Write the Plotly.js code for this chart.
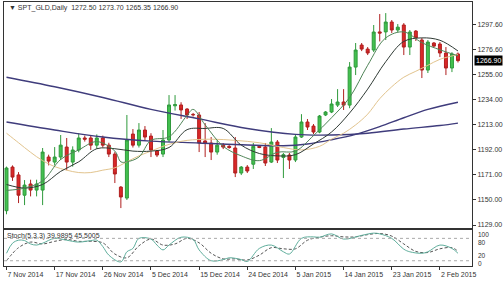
<!DOCTYPE html>
<html><head><meta charset="utf-8">
<script src="https://cdn.plot.ly/plotly-3.0.1.min.js"></script>
<style>html,body{margin:0;padding:0;background:#fff}#c{width:503px;height:283px}</style>
</head><body><div id="c"></div><script>
// ---- data ----
const opens  = [1141,1177.6,1171,1154,1163.4,1158.3,1158.3,1186,1181.8,1186,1194.4,1181.8,1191.9,1202,1202,1196,1202,1196,1188.5,1160.8,1151.6,1205.3,1196,1208.7,1203.6,1191.1,1188.5,1200.3,1229,1229.7,1226.3,1221.8,1221.3,1199.5,1197.8,1190.2,1196,1195,1193.6,1172.6,1177.6,1180,1195,1194.4,1181.8,1198.6,1185.7,1187.7,1183.5,1202.8,1215.4,1212,1207,1221.3,1223.8,1229.6,1232.2,1229.6,1261.5,1280,1276.6,1275.8,1291,1291,1299.3,1292.6,1296.8,1278.3,1291.7,1284.2,1259,1281.7,1280.8,1273.3,1260.7,1272.5];
const highs  = [1178,1179,1173.4,1166.7,1167,1167,1193.6,1188,1194.4,1204.5,1202,1195,1206.1,1204,1204,1205,1204,1198,1190.2,1161.7,1221.3,1209.5,1214.5,1212,1206,1192,1208.7,1238,1238,1232,1227,1223,1223.8,1214.5,1202.8,1200,1197.8,1196,1202.8,1178.5,1179.3,1197.8,1196,1197.8,1210.3,1200.3,1189.4,1189.4,1204.5,1222,1217.9,1213.7,1221.3,1224.6,1234.7,1243,1243,1265.7,1281.7,1281.7,1278.3,1296.8,1306,1306.8,1301,1297.6,1298.4,1292.6,1292.6,1285.9,1284.2,1282.5,1282.5,1278.3,1274,1273.7];
const lows   = [1138,1166,1147.4,1145.7,1153,1153,1145.7,1179,1179,1183.5,1175,1178,1190,1199,1192,1193,1194,1186,1164.2,1143.2,1150,1194,1194,1200,1186,1186,1186,1198.6,1225,1218,1218,1220,1190.2,1186,1183.5,1188,1192.7,1193,1169.2,1170.9,1172.6,1176,1193.5,1178.5,1181,1181,1168.4,1176,1181.8,1202,1208.7,1205.3,1206,1220.4,1222.9,1228,1225.5,1227,1254.8,1274.9,1271.6,1274.1,1283,1284.2,1290.1,1290.9,1271.6,1271.6,1283.4,1252.3,1256.5,1278.3,1269.9,1254.8,1257.3,1265.35];
const closes = [1176.8,1169.2,1154,1162.5,1158.3,1163.4,1190.2,1182.6,1186,1196,1181.8,1191.9,1202,1201,1196,1202,1196,1188.5,1171.8,1152.5,1200.3,1196,1208.7,1202.8,1191.9,1187.7,1200.3,1229.7,1230,1225.5,1221.3,1221.5,1197.8,1197.8,1190.2,1196,1194.4,1194,1172.6,1177.6,1174.3,1195,1194,1181,1198.6,1183.5,1188,1183.5,1202.8,1215.4,1211.2,1207,1220.4,1223.8,1230.5,1232.2,1229.6,1261.5,1275.8,1276.6,1273.3,1290.9,1290,1299.3,1292.6,1295,1278.3,1290.9,1285.9,1259,1282.5,1279.1,1273.3,1260.7,1272.5,1266.9];

const ma5Idx = [0,3,6,9,12,15,18,19,20,22,24,27,30,31,33,36,39,42,45,48,51,54,57,60,63,66,69,72,75];
const ma5    = [1158,1160,1166,1184,1192,1199,1191,1182,1182,1186,1200,1203,1221,1226,1213,1195,1187,1183,1190,1191,1204,1219,1236,1263,1286,1291,1282,1276,1271];
const ma10Idx = [0,3,6,9,12,15,18,21,24,27,30,33,36,39,42,45,48,51,54,57,60,63,66,69,72,75];
const ma10    = [1163,1160,1163,1174,1182,1193,1193,1191,1191,1194,1209,1210,1210,1196,1189,1187,1188,1197,1207,1223,1243,1266,1283,1286,1284,1275];
const ma21Idx = [0,2,4,6,8,10,12,14,16,18,20,22,24,26,28,30,34,38,42,46,49,52,54,56,58,60,62,64,66,68,70,72,75];
const ma21    = [1206,1198,1190,1183,1178,1175,1173,1173,1175,1177,1182,1187,1191,1195,1198,1200,1201,1200,1198,1194,1192,1195,1201,1206,1213,1222,1235,1245,1253,1258,1263,1268,1272];
const ma55Idx = [0,8,16,24,32,40,46,50,54,58,62,66,70,75];
const ma55    = [1215.4,1208.7,1202.8,1199.4,1197.8,1196.1,1195.5,1197,1200.5,1205,1211.5,1219,1226,1232];
const ma100Idx = [0,8,16,24,32,40,48,54,60,66,72,75];
const ma100    = [1253,1245,1236,1226,1218,1210,1205,1204.5,1206,1209.5,1212.5,1214.5];

const stochKIdx = [0,1,2,3,4,5,6,8,10,12,14,15,16,17,19,20,21,22,24,25,26,27,29,31,32,34,36,37,39,40,42,44,46,47,49,51,52,54,56,59,61,62,64,66,67,69,70,72,74,75];
const stochK    = [40,67,75,74,65,62,67,80,75,70,74,75,58,35,17,44,53,80,78,62,49,62,83,77,49,20,23,28,23,18,53,62,44,38,80,84,83,92,78,88,94,92,80,51,44,40,44,62,53,40];
const stochDIdx = [0,2,4,6,8,10,12,14,16,18,20,22,24,26,28,30,32,34,36,38,40,42,44,46,48,50,52,54,56,58,60,62,64,66,68,70,72,74,75];
const stochD    = [20,55,70,65,72,77,72,72,68,38,28,60,78,62,65,80,68,40,25,25,22,35,55,52,52,75,83,87,84,84,90,93,86,65,45,42,52,55,45.5];

const tickIdx  = [0,8,16,24,32,40,48,56,64,72];
const tickText = ['7 Nov 2014','17 Nov 2014','26 Nov 2014','5 Dec 2014','15 Dec 2014','24 Dec 2014','5 Jan 2015','14 Jan 2015','23 Jan 2015','2 Feb 2015'];
const priceTicks = [1129,1150,1171,1192,1213,1234,1255,1276.6,1297.6];
const stochLevels = [80,20];
const stochLabels = ['100','80','20','0'];
const headerText = '\u25BC SPT_GLD,Daily  1272.50 1273.70 1265.35 1266.90';
const stochText = 'Stoch(5,3,3) 39.9895 45.5005';
const lastPrice = 1266.90;

// ---- chart ----
const bars = opens.map((_, i) => i);
const xr = [-0.415, 77.33];
const navy = '#3f3c7c';
const traces = [
  {type:'candlestick', x:bars, open:opens, high:highs, low:lows, close:closes, xaxis:'x', yaxis:'y',
   increasing:{line:{color:'#2f9a3c', width:1}, fillcolor:'#43c14f'},
   decreasing:{line:{color:'#b01f1f', width:1}, fillcolor:'#da2828'},
   whiskerwidth:0, hoverinfo:'skip', showlegend:false},
  {type:'scatter', mode:'lines', x:ma100Idx, y:ma100, xaxis:'x', yaxis:'y', line:{color:navy, width:1.4, shape:'spline'}, hoverinfo:'skip'},
  {type:'scatter', mode:'lines', x:ma55Idx, y:ma55, xaxis:'x', yaxis:'y', line:{color:navy, width:1.4, shape:'spline'}, hoverinfo:'skip'},
  {type:'scatter', mode:'lines', x:ma21Idx, y:ma21, xaxis:'x', yaxis:'y', line:{color:'#e2c48e', width:1, shape:'spline'}, hoverinfo:'skip'},
  {type:'scatter', mode:'lines', x:ma10Idx, y:ma10, xaxis:'x', yaxis:'y', line:{color:'#2f3a34', width:1, shape:'spline'}, hoverinfo:'skip'},
  {type:'scatter', mode:'lines', x:ma5Idx, y:ma5, xaxis:'x', yaxis:'y', line:{color:'#4f8457', width:1, shape:'spline'}, hoverinfo:'skip'},
  {type:'scatter', mode:'lines', x:stochDIdx, y:stochD, xaxis:'x2', yaxis:'y2', line:{color:'#555', width:1, dash:'3px,2px', shape:'spline'}, hoverinfo:'skip'},
  {type:'scatter', mode:'lines', x:stochKIdx, y:stochK, xaxis:'x2', yaxis:'y2', line:{color:'#5fae9c', width:1, shape:'spline'}, hoverinfo:'skip'}
];

const plotTop = 2, plotBot = 266, H = plotBot - plotTop;
const py = p => (plotBot - p) / H;

const shapes = stochLevels.map(v => ({type:'line', xref:'paper', x0:0, x1:1, yref:'y2', y0:v, y1:v,
  line:{color:'#aaa', width:1, dash:'dot'}}));

const stochLabelY = [234.5, 242.5, 255.5, 263];
const annotations = [
  {text:headerText, xref:'paper', yref:'paper', x:0.006, y:py(8), xanchor:'left', yanchor:'middle', showarrow:false, font:{size:7, color:'#333'}},
  {text:stochText, xref:'paper', yref:'paper', x:0.003, y:py(236), xanchor:'left', yanchor:'middle', showarrow:false, font:{size:7, color:'#333'}},
  {text:lastPrice.toFixed(2), xref:'paper', yref:'y', x:1.004, y:lastPrice, xanchor:'left', yanchor:'middle', showarrow:false,
   bgcolor:'#000', borderpad:1, font:{size:7, color:'#fff'}}
].concat(stochLabels.map((t, k) => ({text:t, xref:'paper', yref:'paper', x:1.008, y:py(stochLabelY[k]), xanchor:'left', yanchor:'middle',
   showarrow:false, font:{size:6.5, color:'#333'}})));

const axLine = {showline:true, mirror:true, linecolor:'#333', linewidth:1, showgrid:false, zeroline:false};
const layout = {
  width:503, height:283, margin:{l:4, r:31, t:plotTop, b:283 - plotBot},
  paper_bgcolor:'#fff', plot_bgcolor:'#fff', showlegend:false,
  font:{family:'Liberation Sans, Arial, sans-serif', size:7, color:'#333'},
  xaxis:Object.assign({domain:[0,1], anchor:'y', range:xr, showticklabels:false, ticks:'', rangeslider:{visible:false}}, axLine),
  yaxis:Object.assign({domain:[py(227.5),1], anchor:'x', side:'right', range:[1126.9,1316.1], tickvals:priceTicks, tickformat:'.2f',
    ticks:'outside', ticklen:3, tickcolor:'#333', tickfont:{size:7, color:'#333'}}, axLine),
  xaxis2:Object.assign({domain:[0,1], anchor:'y2', range:xr, tickvals:tickIdx, ticktext:tickText, ticks:'outside', ticklen:3,
    ticklabelstandoff:2, tickangle:0, tickcolor:'#333', ticklabelposition:'outside right', tickfont:{size:7, color:'#333'}, rangeslider:{visible:false}}, axLine),
  yaxis2:Object.assign({domain:[0,py(230)], anchor:'x2', side:'right', range:[5.9,102.4], showticklabels:false, ticks:''}, axLine),
  shapes:shapes, annotations:annotations
};
Plotly.newPlot('c', traces, layout, {staticPlot:true, displayModeBar:false});
</script></body></html>
